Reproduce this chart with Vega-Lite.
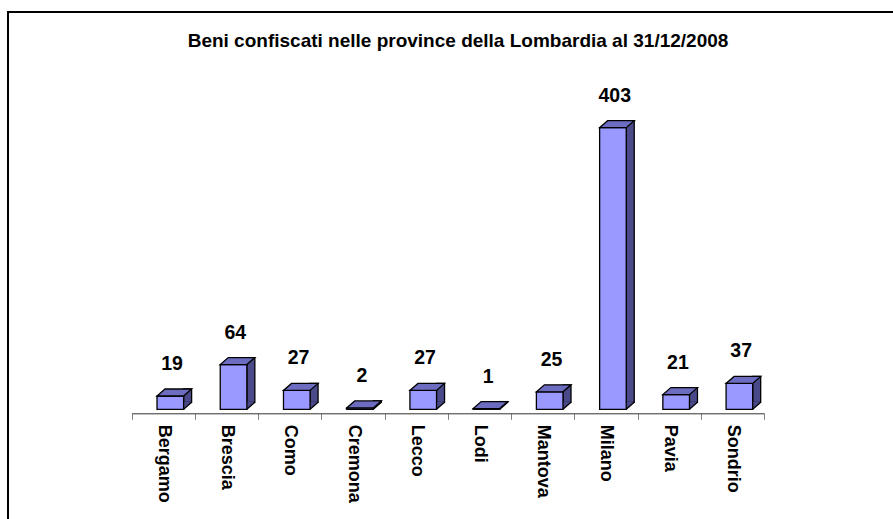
{
  "$schema": "https://vega.github.io/schema/vega-lite/v6.json",
  "width": 900,
  "height": 520,
  "autosize": {"type": "none"},
  "padding": {"left": 8, "top": 12, "right": 0, "bottom": 0},
  "background": "white",
  "title": {
    "text": "Beni confiscati nelle province della Lombardia al 31/12/2008",
    "font": "Liberation Sans",
    "fontSize": 19,
    "fontWeight": "bold",
    "color": "black",
    "anchor": "middle",
    "frame": "group",
    "offset": -54,
    "baseline": "alphabetic"
  },
  "config": {
    "view": {"stroke": "black", "strokeWidth": 2},
    "axis": {"grid": false}
  },
  "data": {
    "values": [
      {"provincia": "Bergamo", "beni": 19},
      {"provincia": "Brescia", "beni": 64},
      {"provincia": "Como", "beni": 27},
      {"provincia": "Cremona", "beni": 2},
      {"provincia": "Lecco", "beni": 27},
      {"provincia": "Lodi", "beni": 1},
      {"provincia": "Mantova", "beni": 25},
      {"provincia": "Milano", "beni": 403},
      {"provincia": "Pavia", "beni": 21},
      {"provincia": "Sondrio", "beni": 37}
    ]
  },
  "encoding": {
    "x": {
      "field": "provincia",
      "type": "nominal",
      "sort": null,
      "scale": {"range": [123.7, 756], "paddingInner": 0, "paddingOuter": 0},
      "axis": {
        "title": null,
        "orient": "bottom",
        "offset": -118.7,
        "labelAngle": 90,
        "labelAlign": "left",
        "labelBaseline": "middle",
        "labelFont": "Liberation Sans",
        "labelFontSize": 18,
        "labelFontWeight": "bold",
        "labelColor": "black",
        "labelPadding": 5,
        "tickBand": "extent",
        "tickSize": 6,
        "tickColor": "#808080",
        "domainColor": "#333333",
        "domainWidth": 1
      }
    },
    "y": {
      "field": "beni",
      "type": "quantitative",
      "scale": {"domain": [0, 403], "range": [397.3, 115.7], "nice": false},
      "axis": null
    }
  },
  "layer": [
    {
      "mark": {"type": "bar", "width": 8, "xOffset": 24.3, "yOffset": -7, "y2Offset": -7, "fill": "#4A4A8A", "stroke": "black", "strokeWidth": 1.3}
    },
    {
      "mark": {"type": "point", "shape": "M20.3,0 L20.3,-7.5 L27.8,-7.5 L27.8,-6.5625 Z", "size": 4, "filled": true, "fill": "#4A4A8A", "strokeWidth": 0, "opacity": 1},
      "encoding": {"y": {"datum": 0, "type": "quantitative"}}
    },
    {
      "mark": {"type": "point", "shape": "M20.3,0 L28.3,-7", "size": 4, "filled": false, "stroke": "black", "strokeWidth": 1.3, "opacity": 1},
      "encoding": {"y": {"datum": 0, "type": "quantitative"}}
    },
    {
      "mark": {"type": "bar", "width": 26.6, "xOffset": 7, "fill": "#9999FF", "stroke": "black", "strokeWidth": 1.3}
    },
    {
      "mark": {"type": "point", "shape": "M-6.3,0 L20.3,0 L28.3,-7 L1.7,-7 Z", "size": 4, "filled": true, "fill": "#6C6CC0", "stroke": "black", "strokeWidth": 1.3, "opacity": 1}
    },
    {
      "mark": {"type": "text", "dx": 8.8, "dy": -26, "baseline": "alphabetic", "align": "center", "font": "Liberation Sans", "fontSize": 19.5, "fontWeight": "bold", "fill": "black"},
      "encoding": {"text": {"field": "beni", "type": "quantitative"}}
    }
  ]
}
